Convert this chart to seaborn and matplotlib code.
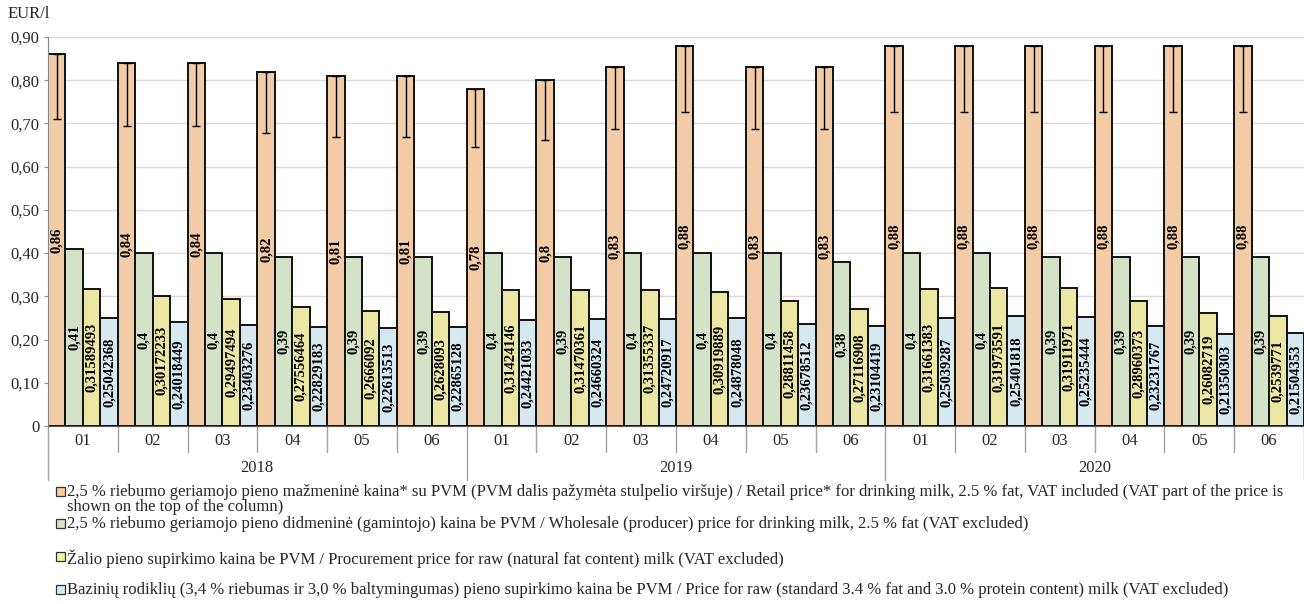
import pandas as pd
import numpy as np
import seaborn as sns
import matplotlib.pyplot as plt
from matplotlib.patches import Rectangle
from matplotlib.ticker import FuncFormatter

# data
years = ["2018", "2019", "2020"]
months = ["01", "02", "03", "04", "05", "06"]
retail = [0.86, 0.84, 0.84, 0.82, 0.81, 0.81,
          0.78, 0.8, 0.83, 0.88, 0.83, 0.83,
          0.88, 0.88, 0.88, 0.88, 0.88, 0.88]
retail_no_vat = [0.711, 0.694, 0.694, 0.678, 0.669, 0.669,
                 0.645, 0.661, 0.686, 0.727, 0.686, 0.686,
                 0.727, 0.727, 0.727, 0.727, 0.727, 0.727]
wholesale = [0.41, 0.4, 0.4, 0.39, 0.39, 0.39,
             0.4, 0.39, 0.4, 0.4, 0.4, 0.38,
             0.4, 0.4, 0.39, 0.39, 0.39, 0.39]
procurement = [0.31589493, 0.30172233, 0.29497494, 0.27556464, 0.2666092, 0.2628093,
               0.31424146, 0.31470361, 0.31355337, 0.30919889, 0.28811458, 0.27116908,
               0.31661383, 0.31973591, 0.31911971, 0.28960373, 0.26082719, 0.2539771]
base_price = [0.25042368, 0.24018449, 0.23403276, 0.22829183, 0.22613513, 0.22865128,
              0.24421033, 0.24660324, 0.24720917, 0.24878048, 0.23678512, 0.23104419,
              0.25039287, 0.25401818, 0.25235444, 0.23231767, 0.21350303, 0.21504353]

series_names = [
    "2,5 % riebumo geriamojo pieno mažmeninė kaina* su PVM (PVM dalis pažymėta stulpelio viršuje) / Retail price* for drinking milk, 2.5 % fat, VAT included (VAT part of the price is\nshown on the top of the column)",
    "2,5 % riebumo geriamojo pieno didmeninė (gamintojo) kaina be PVM / Wholesale (producer) price for drinking milk, 2.5 % fat (VAT excluded)",
    "Žalio pieno supirkimo kaina be PVM / Procurement price for raw (natural fat content) milk (VAT excluded)",
    "Bazinių rodiklių (3,4 % riebumas ir 3,0 % baltymingumas) pieno supirkimo kaina be PVM / Price for raw (standard 3.4 % fat and 3.0 % protein content) milk (VAT excluded)",
]
colors = ["#FFCC99", "#D4E6C4", "#F6F39B", "#D3EBF4"]

periods = [y + "-" + m for y in years for m in months]
rows = []
for name, vals in zip(series_names, [retail, wholesale, procurement, base_price]):
    for p, v in zip(periods, vals):
        rows.append({"period": p, "series": name, "value": v})
df = pd.DataFrame(rows)

sns.set_style("white")
plt.rcParams["font.family"] = ["Liberation Serif", "DejaVu Serif"]

fig = plt.figure(figsize=(13.04, 6.04), dpi=100)
ax = fig.add_axes([48 / 1304, 1 - 426 / 604, 1256 / 1304, 389 / 604])

sns.barplot(data=df, x="period", y="value", hue="series", order=periods,
            hue_order=series_names, palette=colors, width=1.0, dodge=True,
            edgecolor="#111111", linewidth=1.4, legend=False, ax=ax, zorder=2)

# labels inside bars
for cont, vals in zip(ax.containers, [retail, wholesale, procurement, base_price]):
    labs = [str(v).replace(".", ",") for v in vals]
    ax.bar_label(cont, labels=labs, label_type="center", rotation=90,
                 fontsize=10.5, fontweight="bold", color="black")

# VAT part error bars on retail bars
xs = [b.get_x() + b.get_width() / 2 for b in ax.containers[0]]
lower = np.array(retail) - np.array(retail_no_vat)
ax.errorbar(xs, retail, yerr=[lower, np.zeros(len(retail))], fmt="none",
            ecolor="black", elinewidth=1.0, capsize=2.6, capthick=1.0, zorder=3)

ax.set_ylim(0, 0.9)
ax.set_xlim(-0.5, len(periods) - 0.5)
ax.set_yticks(np.arange(0, 0.91, 0.1))
ax.yaxis.set_major_formatter(FuncFormatter(
    lambda v, p: "0" if abs(v) < 1e-9 else f"{v:.2f}".replace(".", ",")))
ax.grid(axis="y", color="#D9D9D9", linewidth=1.0, zorder=0)
ax.set_axisbelow(True)
ax.tick_params(axis="y", length=3, pad=3, labelsize=12, color="#888888", left=True)
ax.set_xticks(range(len(periods)))
ax.set_xticklabels(months * len(years), fontsize=12)
ax.tick_params(axis="x", length=0, pad=5)
ax.set_xlabel("")
ax.set_ylabel("")
for s in ["top", "right"]:
    ax.spines[s].set_visible(False)
ax.spines["left"].set_color("#888888")
ax.spines["bottom"].set_color("#555555")

# category separators
trans = ax.get_xaxis_transform()
for i in range(len(periods) + 1):
    x = i - 0.5
    if i % 6 == 0:
        ax.plot([x, x], [0, -0.14], transform=trans, color="#A0A0A0", lw=1, clip_on=False)
    else:
        ax.plot([x, x], [0, -0.068], transform=trans, color="#A0A0A0", lw=1, clip_on=False)
for k, y in enumerate(years):
    ax.text(k * 6 + 2.5, -0.108, y, transform=trans, ha="center", va="center", fontsize=12)

fig.text(8 / 1304, 1 - 14 / 604, "EUR/l", ha="left", va="center", fontsize=12)

# legend
leg_y = [492, 524, 557, 590]
for name, c, y in zip(series_names, colors, leg_y):
    fig.patches.append(Rectangle((56 / 1304, 1 - (y + 4) / 604), 9 / 1304, 9 / 604,
                                 transform=fig.transFigure, facecolor=c,
                                 edgecolor="#333333", linewidth=0.9))
    fig.text(67 / 1304, 1 - (y - 8) / 604, name, ha="left", va="top",
             fontsize=12, linespacing=0.95)

fig.savefig("out.png", dpi=100)
